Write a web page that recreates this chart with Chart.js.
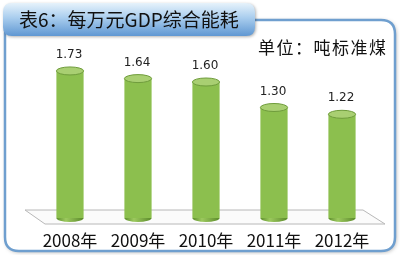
<!DOCTYPE html>
<html>
<head>
<meta charset="utf-8">
<script src="https://cdn.jsdelivr.net/npm/chart.js@4.4.0/dist/chart.umd.min.js"></script>
<style>
  html, body { margin: 0; padding: 0; background: #fff; }
  #wrap { width: 400px; height: 255px; position: relative; }
</style>
</head>
<body>
<div id="wrap"><canvas id="myChart" width="400" height="255"></canvas></div>
<script>
const years = ['2008年', '2009年', '2010年', '2011年', '2012年'];
const consumo = [1.73, 1.64, 1.60, 1.30, 1.22];
const titulo = '表6：每万元GDP综合能耗';
const unidad = '单位：吨标准煤';

const CJK = '"Noto Sans CJK SC", "Noto Sans", sans-serif';

function roundRect(ctx, x, y, w, h, r) {
  ctx.beginPath();
  ctx.moveTo(x + r, y);
  ctx.lineTo(x + w - r, y);
  ctx.quadraticCurveTo(x + w, y, x + w, y + r);
  ctx.lineTo(x + w, y + h - r);
  ctx.quadraticCurveTo(x + w, y + h, x + w - r, y + h);
  ctx.lineTo(x + r, y + h);
  ctx.quadraticCurveTo(x, y + h, x, y + h - r);
  ctx.lineTo(x, y + r);
  ctx.quadraticCurveTo(x, y, x + r, y);
  ctx.closePath();
}

// marco, pestaña del titulo y piso
const fondo = {
  id: 'fondo',
  beforeDraw(chart) {
    const ctx = chart.ctx;
    const a = chart.chartArea;
    ctx.save();
    // marco
    ctx.shadowColor = 'rgba(0,0,0,0.35)';
    ctx.shadowBlur = 4;
    ctx.shadowOffsetX = 1;
    ctx.shadowOffsetY = 1;
    roundRect(ctx, 5, 20, 390, 231, 14);
    ctx.fillStyle = '#fff';
    ctx.fill();
    ctx.shadowColor = 'transparent';
    ctx.lineWidth = 2.5;
    ctx.strokeStyle = '#6f9fcf';
    ctx.stroke();
    // pestaña
    const g = ctx.createLinearGradient(0, 3, 0, 36);
    g.addColorStop(0, '#e6f2fb');
    g.addColorStop(0.45, '#a9cdee');
    g.addColorStop(1, '#5f97d2');
    ctx.shadowColor = 'rgba(0,0,0,0.3)';
    ctx.shadowBlur = 3;
    ctx.shadowOffsetY = 1;
    roundRect(ctx, 3, 3, 252, 33, 9);
    ctx.fillStyle = g;
    ctx.fill();
    ctx.shadowColor = 'transparent';
    ctx.fillStyle = '#111';
    ctx.font = '19px ' + CJK;
    ctx.textBaseline = 'middle';
    ctx.fillText(titulo, 19, 20);
    // unidad
    ctx.font = '17px ' + CJK;
    ctx.letterSpacing = '1.5px';
    ctx.fillStyle = '#111';
    ctx.fillText(unidad, 258, 48);
    ctx.letterSpacing = '0px';
    // piso
    const base = chart.scales.y.getPixelForValue(0);
    ctx.beginPath();
    ctx.moveTo(a.left - 11, base - 8);
    ctx.lineTo(a.right - 13, base - 8);
    ctx.lineTo(a.right + 9, base + 6);
    ctx.lineTo(a.left + 9, base + 6);
    ctx.closePath();
    ctx.fillStyle = '#fbfbfb';
    ctx.fill();
    ctx.strokeStyle = '#b8b8b8';
    ctx.lineWidth = 1;
    ctx.stroke();
    ctx.restore();
  }
};

// tapas de los cilindros y etiquetas
const cilindros = {
  id: 'cilindros',
  afterDatasetsDraw(chart) {
    const ctx = chart.ctx;
    const meta = chart.getDatasetMeta(0);
    ctx.save();
    meta.data.forEach((bar, i) => {
      const rx = bar.width / 2;
      const ry = 4;
      // fondo
      const gb = ctx.createLinearGradient(bar.x - rx, 0, bar.x + rx, 0);
      gb.addColorStop(0, '#5e8f2c');
      gb.addColorStop(0.35, '#9cc95e');
      gb.addColorStop(1, '#5b8a2a');
      ctx.beginPath();
      ctx.ellipse(bar.x, bar.base, rx, ry, 0, 0, Math.PI);
      ctx.fillStyle = gb;
      ctx.fill();
      // tapa
      ctx.beginPath();
      ctx.ellipse(bar.x, bar.y, rx, ry, 0, 0, Math.PI * 2);
      ctx.fillStyle = '#a9cf72';
      ctx.fill();
      ctx.strokeStyle = '#6f9c3c';
      ctx.lineWidth = 1;
      ctx.stroke();
      // valor
      ctx.fillStyle = '#222';
      ctx.font = '12px "DejaVu Sans", sans-serif';
      ctx.textAlign = 'center';
      ctx.textBaseline = 'middle';
      ctx.fillText(consumo[i].toFixed(2), bar.x - 1, bar.y - 16);
    });
    ctx.restore();
  }
};

const ctx = document.getElementById('myChart').getContext('2d');
const chart = new Chart(ctx, {
  type: 'bar',
  data: {
    labels: years,
    datasets: [{
      data: consumo,
      borderWidth: 0,
      backgroundColor: (c) => {
        const el = c.element;
        const area = c.chart.chartArea;
        if (!el || !area || !el.width) return '#8cbf4e';
        const x0 = el.x - el.width / 2;
        const g = c.chart.ctx.createLinearGradient(x0, 0, x0 + el.width, 0);
        g.addColorStop(0, '#5e8f2c');
        g.addColorStop(0.3, '#9fcb62');
        g.addColorStop(0.55, '#93c257');
        g.addColorStop(1, '#55832a');
        return g;
      },
      categoryPercentage: 1,
      barPercentage: 0.4
    }]
  },
  options: {
    responsive: false,
    animation: false,
    layout: { padding: { left: 36, right: 24, top: 48, bottom: 4 } },
    plugins: { legend: { display: false }, tooltip: { enabled: false } },
    scales: {
      x: {
        grid: { display: false, drawTicks: false },
        border: { display: false },
        ticks: { color: '#111', font: { size: 17, family: CJK }, padding: 12 },
        afterFit: (s) => { s.height = 33; }
      },
      y: {
        display: false,
        min: 0,
        max: 2.0
      }
    }
  },
  plugins: [fondo, cilindros]
});
</script>
</body>
</html>
